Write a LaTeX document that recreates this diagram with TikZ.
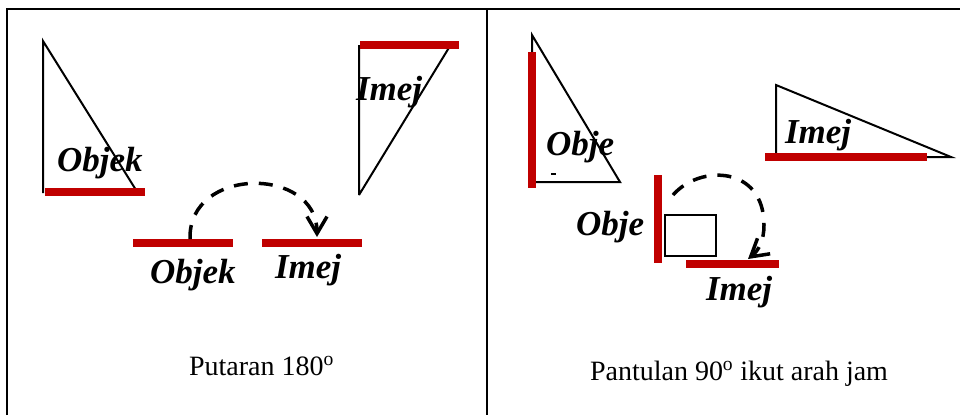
\documentclass[tikz,border=0pt]{standalone}
\usepackage{fontspec}
\setmainfont{Liberation Serif}
\usetikzlibrary{arrows.meta}
\definecolor{merah}{RGB}{192,0,0}

\begin{document}
\begin{tikzpicture}[x=1pt, y=-1pt,
		>={Straight Barb[length=17pt,width=20pt]}, line width=2pt,
		cermin/.style={line width=8pt, merah},
		segi/.style={line width=2pt, line join=miter, black},
		lengkok/.style={->, line width=3.5pt, dash pattern=on 14pt off 11pt},
		tajuk/.style={inner sep=0pt, anchor=base west, font=\fontsize{35}{40}\selectfont\bfseries\itshape},
		kapsyen/.style={inner sep=0pt, anchor=base west, font=\fontsize{28}{34}\selectfont}]
	\useasboundingbox (0,0) rectangle (960,415);

	%% bingkai jadual
	\draw (7,415) -- (7,9) -- (960,9);
	\draw (487,9) -- (487,415);

	%% ---- putaran 180 ----
	\draw[segi] (43,193) -- (43,41) -- (136,190);
	\draw[cermin] (45,192) -- (145,192);
	\draw[segi] (359,195) -- (359,45) (450,46) -- (359,195);
	\draw[cermin] (360,45) -- (459,45);
	\draw[cermin] (133,243) -- (233,243);
	\draw[cermin] (262,243) -- (362,243);

	\coordinate (putarA) at (190,239);
	\coordinate (putarB) at (317,237);
	\draw[lengkok] (putarA) .. controls (188,166) and (317,166) .. (putarB);

	\node[tajuk] (objek1) at (56,171) {Objek};
	\node[tajuk] (imej1) at (355,100) {Imej};
	\node[tajuk] (objek2) at (149,283) {Objek};
	\node[tajuk] (imej2) at (274,278) {Imej};
	\node[kapsyen] (putaran) at (188,375) {Putaran 180\textsuperscript{o}};

	%% ---- pantulan 90 ----
	\draw[segi] (532,35) -- (620,182) -- (532,182) -- cycle;
	\draw[cermin] (532,52) -- (532,188);
	\draw[line width=1.5pt] (551,174) -- (556,174);
	\draw[segi] (776,85) -- (951,157) -- (776,157) -- cycle;
	\draw[cermin] (765,157) -- (927,157);
	\draw[segi] (665,215) rectangle (716,256);
	\draw[cermin] (658,175) -- (658,263);
	\draw[cermin] (686,264) -- (779,264);

	\coordinate (pantulA) at (673,195);
	\coordinate (pantulB) at (748,259);
	\draw[lengkok] (pantulA) .. controls (700,164) and (764,166) .. (764,225)
		.. controls (764,240) and (759,250) .. (pantulB);

	\node[tajuk] (objek3) at (545,155) {Obje};
	\node[tajuk] (imej3) at (784,143) {Imej};
	\node[tajuk] (objek4) at (575,235) {Obje};
	\node[tajuk] (imej4) at (705,300) {Imej};
	\node[kapsyen] (pantulan) at (589,380) {Pantulan 90\textsuperscript{o} ikut arah jam};
\end{tikzpicture}
\end{document}
